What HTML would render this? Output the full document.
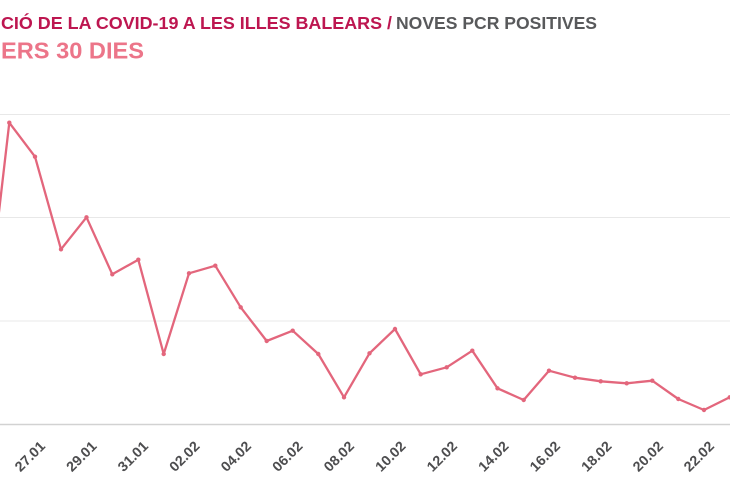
<!DOCTYPE html>
<html><head><meta charset="utf-8"><style>
html,body{margin:0;padding:0;background:#fff;}
svg{display:block;}
text{font-family:"Liberation Sans",sans-serif;font-weight:bold;}
</style></head><body>
<svg width="730" height="500" viewBox="0 0 730 500" xmlns="http://www.w3.org/2000/svg">
<rect width="730" height="500" fill="#fff"/>
<text x="1" y="29" font-size="17.5" fill="#bd1650" textLength="391" lengthAdjust="spacingAndGlyphs">CIÓ DE LA COVID-19 A LES ILLES BALEARS /</text>
<text x="396" y="29" font-size="17.5" fill="#58595b" textLength="201" lengthAdjust="spacingAndGlyphs">NOVES PCR POSITIVES</text>
<text x="1" y="58.3" font-size="23" fill="#ec7589" textLength="143" lengthAdjust="spacingAndGlyphs">ERS 30 DIES</text>
<g stroke="#e8e8e8" stroke-width="1">
<line x1="0" y1="114.5" x2="730" y2="114.5"/>
<line x1="0" y1="217.5" x2="730" y2="217.5"/>
<line x1="0" y1="321" x2="730" y2="321"/>
</g>
<line x1="0" y1="424.5" x2="730" y2="424.5" stroke="#d2d2d2" stroke-width="1.5"/>
<polyline fill="none" stroke="#e3667c" stroke-width="2.3" stroke-linejoin="round" points="-16.4,344.5 9.3,122.7 35,156.7 61,249.3 86.5,217.3 112.3,274.3 138.3,259.7 163.7,354 189,273.3 215.3,265.7 240.7,307.3 266.7,341 292.7,330.7 318.3,354 344,397.3 369.5,353.3 395,329 420.7,374.3 446.7,367.3 472.3,350.7 497.5,388.3 523.7,400 549,370.7 575,377.7 600.7,381.3 626.7,383.3 652.3,380.7 678.3,399 704,410 729.7,397.3"/>
<g fill="#e3667c">
<circle cx="9.3" cy="122.7" r="2.2"/><circle cx="35" cy="156.7" r="2.2"/><circle cx="61" cy="249.3" r="2.2"/><circle cx="86.5" cy="217.3" r="2.2"/><circle cx="112.3" cy="274.3" r="2.2"/><circle cx="138.3" cy="259.7" r="2.2"/><circle cx="163.7" cy="354" r="2.2"/><circle cx="189" cy="273.3" r="2.2"/><circle cx="215.3" cy="265.7" r="2.2"/><circle cx="240.7" cy="307.3" r="2.2"/><circle cx="266.7" cy="341" r="2.2"/><circle cx="292.7" cy="330.7" r="2.2"/><circle cx="318.3" cy="354" r="2.2"/><circle cx="344" cy="397.3" r="2.2"/><circle cx="369.5" cy="353.3" r="2.2"/><circle cx="395" cy="329" r="2.2"/><circle cx="420.7" cy="374.3" r="2.2"/><circle cx="446.7" cy="367.3" r="2.2"/><circle cx="472.3" cy="350.7" r="2.2"/><circle cx="497.5" cy="388.3" r="2.2"/><circle cx="523.7" cy="400" r="2.2"/><circle cx="549" cy="370.7" r="2.2"/><circle cx="575" cy="377.7" r="2.2"/><circle cx="600.7" cy="381.3" r="2.2"/><circle cx="626.7" cy="383.3" r="2.2"/><circle cx="652.3" cy="380.7" r="2.2"/><circle cx="678.3" cy="399" r="2.2"/><circle cx="704" cy="410" r="2.2"/><circle cx="729.7" cy="397.3" r="2.2"/>
</g>
<g fill="#4d4d4f" font-size="14" text-anchor="end">
<text x="46" y="447" transform="rotate(-45 46 447)" textLength="36" lengthAdjust="spacingAndGlyphs">27.01</text>
<text x="97.5" y="447" transform="rotate(-45 97.5 447)" textLength="36" lengthAdjust="spacingAndGlyphs">29.01</text>
<text x="149" y="447" transform="rotate(-45 149 447)" textLength="36" lengthAdjust="spacingAndGlyphs">31.01</text>
<text x="200.5" y="447" transform="rotate(-45 200.5 447)" textLength="36" lengthAdjust="spacingAndGlyphs">02.02</text>
<text x="252" y="447" transform="rotate(-45 252 447)" textLength="36" lengthAdjust="spacingAndGlyphs">04.02</text>
<text x="303.5" y="447" transform="rotate(-45 303.5 447)" textLength="36" lengthAdjust="spacingAndGlyphs">06.02</text>
<text x="355" y="447" transform="rotate(-45 355 447)" textLength="36" lengthAdjust="spacingAndGlyphs">08.02</text>
<text x="406.5" y="447" transform="rotate(-45 406.5 447)" textLength="36" lengthAdjust="spacingAndGlyphs">10.02</text>
<text x="458" y="447" transform="rotate(-45 458 447)" textLength="36" lengthAdjust="spacingAndGlyphs">12.02</text>
<text x="509.5" y="447" transform="rotate(-45 509.5 447)" textLength="36" lengthAdjust="spacingAndGlyphs">14.02</text>
<text x="561" y="447" transform="rotate(-45 561 447)" textLength="36" lengthAdjust="spacingAndGlyphs">16.02</text>
<text x="612.5" y="447" transform="rotate(-45 612.5 447)" textLength="36" lengthAdjust="spacingAndGlyphs">18.02</text>
<text x="664" y="447" transform="rotate(-45 664 447)" textLength="36" lengthAdjust="spacingAndGlyphs">20.02</text>
<text x="715" y="447" transform="rotate(-45 715 447)" textLength="36" lengthAdjust="spacingAndGlyphs">22.02</text>
</g>
</svg>
</body></html>
